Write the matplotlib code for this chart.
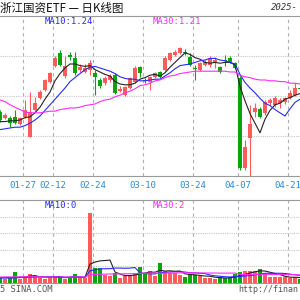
import matplotlib
matplotlib.use("Agg")
import matplotlib.pyplot as plt
import numpy as np

# ---------------------------------------------------------------------------
# Data (daily K-line of 浙江国资ETF, Jan-Apr 2025)
# ---------------------------------------------------------------------------
dates = ["01-20", "01-21", "01-22", "01-23", "01-24", "01-27", "02-05", "02-06",
         "02-07", "02-10", "02-11", "02-12", "02-13", "02-14", "02-17", "02-18",
         "02-19", "02-20", "02-21", "02-24", "02-25", "02-26", "02-27", "02-28",
         "03-03", "03-04", "03-05", "03-06", "03-07", "03-10", "03-11", "03-12",
         "03-13", "03-14", "03-17", "03-18", "03-19", "03-20", "03-21", "03-24",
         "03-25", "03-26", "03-27", "03-28", "03-31", "04-01", "04-02", "04-03",
         "04-07", "04-08", "04-09", "04-10", "04-11", "04-14", "04-15", "04-16",
         "04-17", "04-18", "04-21", "04-22", "04-23"]

opens = [1.180, 1.173, 1.173, 1.174, 1.165, 1.174, 1.149, 1.183, 1.198, 1.208,
         1.218, 1.238, 1.254, 1.225, 1.251, 1.248, 1.233, 1.230, 1.233, 1.229,
         1.220, 1.216, 1.220, 1.226, 1.206, 1.201, 1.210, 1.218, 1.236, 1.220,
         1.218, 1.224, 1.230, 1.233, 1.245, 1.251, 1.254, 1.255, 1.249, 1.235,
         1.233, 1.239, 1.239, 1.241, 1.236, 1.245, 1.248, 1.241, 1.223, 1.110,
         1.148, 1.180, 1.184, 1.179, 1.191, 1.189, 1.191, 1.193, 1.198, 1.201,
         1.210]
closes = [1.170, 1.176, 1.166, 1.166, 1.173, 1.183, 1.180, 1.191, 1.205, 1.220,
          1.229, 1.248, 1.239, 1.238, 1.249, 1.229, 1.236, 1.235, 1.241, 1.224,
          1.213, 1.223, 1.225, 1.204, 1.209, 1.211, 1.223, 1.235, 1.229, 1.219,
          1.224, 1.229, 1.224, 1.248, 1.254, 1.255, 1.260, 1.254, 1.239, 1.234,
          1.241, 1.243, 1.248, 1.245, 1.230, 1.244, 1.243, 1.235, 1.110, 1.136,
          1.165, 1.185, 1.174, 1.193, 1.195, 1.198, 1.195, 1.198, 1.204, 1.210,
          1.209]
highs = [1.183, 1.179, 1.175, 1.183, 1.174, 1.195, 1.205, 1.199, 1.208, 1.221,
         1.230, 1.250, 1.258, 1.250, 1.255, 1.255, 1.240, 1.240, 1.245, 1.233,
         1.223, 1.225, 1.228, 1.229, 1.213, 1.213, 1.224, 1.238, 1.238, 1.223,
         1.225, 1.230, 1.231, 1.250, 1.255, 1.258, 1.261, 1.259, 1.254, 1.239,
         1.243, 1.245, 1.250, 1.249, 1.238, 1.251, 1.250, 1.243, 1.225, 1.145,
         1.189, 1.191, 1.186, 1.195, 1.198, 1.200, 1.198, 1.199, 1.208, 1.216,
         1.213]
lows = [1.168, 1.171, 1.161, 1.165, 1.164, 1.173, 1.149, 1.181, 1.196, 1.206,
        1.216, 1.236, 1.238, 1.223, 1.245, 1.226, 1.230, 1.229, 1.226, 1.201,
        1.210, 1.214, 1.218, 1.203, 1.205, 1.200, 1.209, 1.216, 1.224, 1.216,
        1.208, 1.223, 1.223, 1.231, 1.244, 1.250, 1.253, 1.251, 1.238, 1.220,
        1.231, 1.238, 1.236, 1.235, 1.229, 1.238, 1.241, 1.234, 1.108, 1.108,
        1.100, 1.174, 1.173, 1.176, 1.189, 1.186, 1.185, 1.190, 1.196, 1.200,
        1.205]

ma5 = [1.168, 1.168, 1.169, 1.169, 1.170, 1.173, 1.174, 1.179, 1.186, 1.196,
       1.205, 1.219, 1.228, 1.235, 1.240, 1.240, 1.238, 1.237, 1.238, 1.233,
       1.230, 1.227, 1.225, 1.218, 1.215, 1.214, 1.214, 1.216, 1.221, 1.223,
       1.226, 1.227, 1.225, 1.229, 1.236, 1.242, 1.248, 1.254, 1.252, 1.248,
       1.246, 1.242, 1.241, 1.242, 1.241, 1.242, 1.242, 1.239, 1.212, 1.194,
       1.178, 1.166, 1.154, 1.171, 1.182, 1.189, 1.191, 1.196, 1.198, 1.201,
       1.203]
ma10 = [1.158, 1.159, 1.160, 1.161, 1.161, 1.163, 1.166, 1.170, 1.175, 1.182,
        1.189, 1.196, 1.203, 1.210, 1.218, 1.223, 1.228, 1.233, 1.236, 1.237,
        1.235, 1.233, 1.231, 1.228, 1.224, 1.222, 1.221, 1.221, 1.219, 1.219,
        1.220, 1.221, 1.221, 1.225, 1.229, 1.234, 1.238, 1.239, 1.240, 1.242,
        1.244, 1.245, 1.247, 1.247, 1.245, 1.244, 1.242, 1.240, 1.227, 1.217,
        1.210, 1.204, 1.197, 1.191, 1.188, 1.183, 1.179, 1.175, 1.184, 1.192,
        1.196]
ma30 = [1.195, 1.193, 1.189, 1.186, 1.183, 1.180, 1.179, 1.179, 1.179, 1.180,
        1.181, 1.181, 1.183, 1.184, 1.185, 1.185, 1.186, 1.188, 1.189, 1.190,
        1.193, 1.195, 1.196, 1.199, 1.201, 1.204, 1.206, 1.209, 1.213, 1.214,
        1.216, 1.219, 1.220, 1.223, 1.225, 1.226, 1.228, 1.229, 1.230, 1.231,
        1.231, 1.231, 1.231, 1.231, 1.231, 1.231, 1.230, 1.230, 1.226, 1.224,
        1.223, 1.221, 1.220, 1.220, 1.219, 1.219, 1.218, 1.218, 1.216, 1.216,
        1.215]

volumes = [1.20, 0.96, 1.20, 2.64, 0.96, 1.44, 2.16, 1.68, 1.20, 0.96,
           1.44, 1.68, 1.44, 0.96, 1.20, 2.16, 1.44, 1.20, 16.8, 3.60,
           3.60, 1.92, 1.68, 2.40, 1.20, 1.68, 1.92, 2.40, 3.84, 2.16,
           2.88, 1.68, 4.80, 2.88, 2.40, 2.40, 1.92, 1.44, 2.16, 1.92,
           1.68, 1.20, 1.20, 0.96, 1.44, 1.20, 1.44, 2.16, 2.64, 2.88,
           2.88, 2.88, 3.36, 2.40, 1.44, 1.44, 1.44, 1.44, 1.20, 1.44,
           0.96]
vma5 = [1.32, 1.32, 1.32, 1.32, 1.39, 1.44, 1.68, 1.78, 1.49, 1.49,
        1.49, 1.39, 1.34, 1.30, 1.34, 1.49, 1.44, 1.39, 4.56, 5.04,
        5.33, 5.42, 5.52, 2.64, 2.16, 1.78, 1.78, 1.92, 2.21, 2.40,
        2.64, 2.59, 3.07, 2.88, 2.93, 2.83, 2.88, 2.21, 2.06, 1.97,
        1.82, 1.68, 1.63, 1.39, 1.30, 1.20, 1.25, 1.44, 1.78, 2.06,
        2.40, 2.69, 2.93, 2.88, 2.59, 2.30, 2.02, 1.63, 1.39, 1.39,
        1.30]
vma10 = [1.20, 1.20, 1.20, 1.25, 1.30, 1.34, 1.39, 1.44, 1.44, 1.44,
         1.46, 1.54, 1.56, 1.39, 1.42, 1.49, 1.42, 1.37, 2.93, 3.19,
         3.41, 3.43, 3.46, 3.60, 3.60, 3.55, 3.60, 3.72, 2.42, 2.28,
         2.21, 2.18, 2.50, 2.54, 2.66, 2.74, 2.74, 2.64, 2.47, 2.45,
         2.33, 2.28, 1.92, 1.73, 1.63, 1.51, 1.46, 1.54, 1.58, 1.68,
         1.80, 1.97, 2.18, 2.33, 2.33, 2.35, 2.35, 2.28, 2.14, 1.99,
         1.80]
vma30 = [1.44, 1.46, 1.46, 1.49, 1.49, 1.49, 1.51, 1.51, 1.49, 1.49,
         1.46, 1.46, 1.46, 1.44, 1.44, 1.46, 1.46, 1.44, 1.97, 2.04,
         2.11, 2.14, 2.16, 2.18, 2.18, 2.21, 2.23, 2.26, 2.33, 2.35,
         2.40, 2.40, 2.35, 2.40, 2.42, 2.42, 2.45, 2.45, 2.45, 2.45,
         2.42, 2.42, 2.40, 2.40, 2.38, 2.38, 2.38, 2.40, 2.06, 2.04,
         2.04, 2.06, 2.09, 2.11, 2.06, 2.06, 2.06, 2.04, 2.04, 1.99,
         1.94]

tick_dates = ["01-27", "02-12", "02-24", "03-10", "03-24", "04-07", "04-21"]

# ---------------------------------------------------------------------------
# Styling
# ---------------------------------------------------------------------------
RED = "#ff5b5b"
GREEN = "#0aa50a"
C_MA5 = "#222222"
C_MA10 = "#2a2aff"
C_MA30 = "#ff2cff"
MONO = "DejaVu Sans Mono"

x = np.arange(len(dates))
o = np.array(opens)
c = np.array(closes)
up = c >= o
colors = np.where(up, RED, GREEN)
tick_pos = [dates.index(d) - 0.4 for d in tick_dates]

fig = plt.figure(figsize=(3, 3), dpi=100)
ax = fig.add_axes([0, 1 - 176 / 300, 1, 160 / 300])
axv = fig.add_axes([0, 1 - 283 / 300, 1, 83 / 300])


def frame(a):
    a.set_xlim(0, len(dates) - 1)
    a.set_xticks([])
    a.set_yticks([])
    for s in ("left", "right"):
        a.spines[s].set_visible(False)
    for s in ("top", "bottom"):
        a.spines[s].set_color("#9a9a9a")
        a.spines[s].set_linewidth(0.8)
    for t in tick_pos:
        a.axvline(t, color="#b0b0b0", lw=0.8, ls=(0, (3, 3)), zorder=0)


# -----------------------------------------------------------------------------
# 1. Price panel
# -----------------------------------------------------------------------------
frame(ax)
ax.set_ylim(1.10, 1.30)
for g in (1.15, 1.20, 1.25):
    ax.axhline(g, color="#c8c8c8", lw=0.8, ls=(0, (1, 1)), zorder=0)

ax.vlines(x, lows, highs, colors=colors, lw=0.8, zorder=2)
body = np.maximum(np.abs(c - o), 0.0008)
ax.bar(x, body, bottom=np.minimum(o, c), width=0.72, color=colors,
       linewidth=0, zorder=3)

ax.plot(x, ma5, color=C_MA5, lw=0.8, zorder=4)
ax.plot(x, ma10, color=C_MA10, lw=0.8, zorder=4)
ax.plot(x, ma30, color=C_MA30, lw=0.8, zorder=4)

# -----------------------------------------------------------------------------
# 2. Volume panel
# -----------------------------------------------------------------------------
frame(axv)
axv.set_ylim(0, 20)
for g in (4, 8, 12, 16):
    axv.axhline(g, color="#c8c8c8", lw=0.8, ls=(0, (1, 1)), zorder=0)
axv.bar(x, volumes, width=0.72, color=colors, linewidth=0, zorder=2)
axv.plot(x, vma5, color=C_MA5, lw=0.8, zorder=4)
axv.plot(x, vma10, color=C_MA10, lw=0.8, zorder=4)
axv.plot(x, vma30, color=C_MA30, lw=0.8, zorder=4)

# -----------------------------------------------------------------------------
# 3. Texts (positions in figure pixels)
# -----------------------------------------------------------------------------
def ftext(px, py, s, **kw):
    fig.text(px / 300, 1 - py / 300, s, va="center", ha="left", **kw)


ftext(0, 8, "浙江国资ETF — 日K线图", fontsize=8.3, color="#111111",
      family=["Noto Sans CJK SC", "DejaVu Sans"])
ftext(271, 8, "2025-", fontsize=6.5, color="#333333", style="italic",
      family=MONO)
ftext(45, 22, "MA10:1.24", fontsize=6.5, color=C_MA10, family=MONO)
ftext(153, 22, "MA30:1.21", fontsize=6.5, color=C_MA30, family=MONO)
ftext(45, 205, "MA10:0", fontsize=6.5, color=C_MA10, family=MONO)
ftext(153, 205, "MA30:2", fontsize=6.5, color=C_MA30, family=MONO)
ftext(0, 289, "5 SINA.COM", fontsize=6.3, color="#555555", family=MONO)
ftext(238, 289, "http://finan", fontsize=6, color="#555555", family=MONO)

for d, t in zip(tick_dates, tick_pos):
    px = t * 5
    fig.text(px / 300, 1 - 186 / 300, d, ha="center", va="center",
             fontsize=6.5, color="#2b8ad6", family=MONO)

fig.savefig("out.png", dpi=100)
